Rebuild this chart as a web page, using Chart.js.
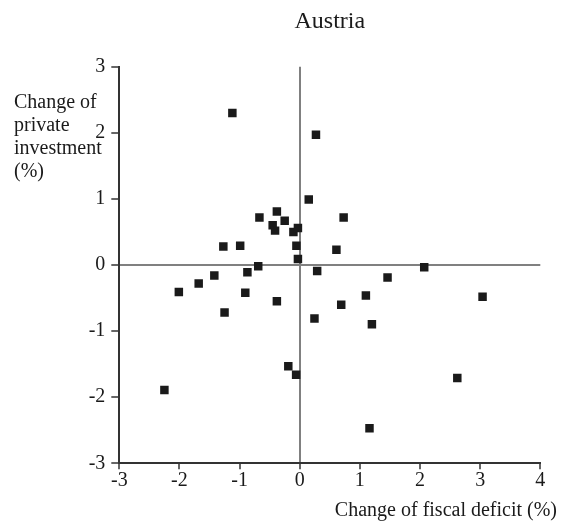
<!DOCTYPE html>
<html>
<head>
<meta charset="utf-8">
<script src="https://cdn.jsdelivr.net/npm/chart.js@4/dist/chart.umd.min.js"></script>
<style>
  html, body { margin: 0; padding: 0; background: #fff; }
  #wrap { width: 565px; height: 527px; }
</style>
</head>
<body>
<div id="wrap"><canvas id="chart" width="565" height="527"></canvas></div>
<script>
// Austria: change of fiscal deficit (x) vs change of private investment (y), in %
const fiscalDeficit = [-1.12, -0.67, -0.38, -0.25, -0.45, -0.41, -0.105, -0.03, -1.27, -0.99,
  -0.055, -0.03, -0.69, 0.15, 0.27, 0.73, 0.61, 2.07, 0.29, -0.87,
  -1.42, -1.68, -2.01, -0.905, -0.38, -1.25, -0.19, -0.06, -2.25, 1.46,
  1.10, 3.04, 0.69, 0.245, 1.20, 2.62, 1.16];
const privateInvestment = [2.30, 0.72, 0.81, 0.67, 0.60, 0.52, 0.50, 0.56, 0.28, 0.29,
  0.29, 0.09, -0.02, 0.99, 1.97, 0.72, 0.23, -0.035, -0.09, -0.11,
  -0.16, -0.28, -0.41, -0.42, -0.55, -0.72, -1.53, -1.66, -1.89, -0.19,
  -0.46, -0.48, -0.60, -0.81, -0.895, -1.71, -2.47];
const xTicks = [-3, -2, -1, 0, 1, 2, 3, 4];
const yTicks = [-3, -2, -1, 0, 1, 2, 3];
const chartTitle = 'Austria';
const xTitle = 'Change of fiscal deficit (%)';
const yTitle = ['Change of', 'private', 'investment', '(%)'];

const SERIF = '"Liberation Serif", "Times New Roman", "DejaVu Serif", serif';

const points = fiscalDeficit.map((x, i) => ({ x, y: privateInvestment[i] }));

// axis titles sit outside the plot, drawn by hand
const axisTitles = {
  id: 'axisTitles',
  afterDraw(chart) {
    const ctx = chart.ctx;
    ctx.save();
    ctx.fillStyle = '#1a1a1a';
    ctx.font = '20px ' + SERIF;
    ctx.textBaseline = 'alphabetic';
    ctx.textAlign = 'left';
    yTitle.forEach((line, i) => ctx.fillText(line, 14, 108 + i * 23));
    ctx.textAlign = 'right';
    ctx.fillText(xTitle, 557, 516);
    ctx.restore();
  }
};

const gridColor = c => (c.tick && c.tick.value === 0) ? '#808080' : 'rgba(0,0,0,0)';

new Chart(document.getElementById('chart'), {
  type: 'scatter',
  data: {
    datasets: [{
      data: points,
      pointStyle: 'rect',
      pointRadius: 6,
      pointBackgroundColor: '#1a1a1a',
      pointBorderColor: '#1a1a1a',
      pointBorderWidth: 0
    }]
  },
  options: {
    responsive: false,
    animation: false,
    devicePixelRatio: 1,
    layout: { padding: { left: 0, right: 24.7, top: 0, bottom: 0 } },
    plugins: {
      legend: { display: false },
      tooltip: { enabled: false },
      title: {
        display: true,
        text: chartTitle,
        fullSize: false,
        color: '#1a1a1a',
        font: { family: SERIF, size: 24, weight: 'normal', lineHeight: 1.2 },
        padding: { top: 7, bottom: 30.9 }
      }
    },
    scales: {
      x: {
        type: 'linear',
        min: -3, max: 4,
        afterBuildTicks: s => { s.ticks = xTicks.map(v => ({ value: v })); },
        afterFit: s => { s.height = 63.7; },
        border: { color: '#333', width: 2 },
        grid: { color: gridColor, lineWidth: 2, tickColor: '#333', tickWidth: 1.5, tickLength: 6 },
        ticks: {
          color: '#1a1a1a', padding: 1, maxRotation: 0,
          font: { family: SERIF, size: 20, lineHeight: 1 },
          callback: v => String(v)
        }
      },
      y: {
        type: 'linear',
        min: -3, max: 3,
        afterBuildTicks: s => { s.ticks = yTicks.map(v => ({ value: v })); },
        afterFit: s => { s.width = 119.3; },
        border: { color: '#333', width: 2 },
        grid: { color: gridColor, lineWidth: 2, tickColor: '#333', tickWidth: 1.5, tickLength: 8 },
        ticks: {
          color: '#1a1a1a', padding: 6,
          font: { family: SERIF, size: 20, lineHeight: 1 },
          callback: v => String(v)
        }
      }
    }
  },
  plugins: [axisTitles]
});
</script>
</body>
</html>
